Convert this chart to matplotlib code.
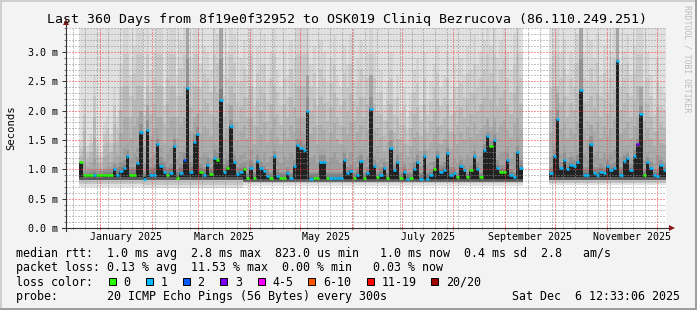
import datetime as dt
import numpy as np
import matplotlib
matplotlib.use("Agg")
import matplotlib.pyplot as plt
import matplotlib.dates as mdates
from matplotlib.ticker import MultipleLocator, FuncFormatter, NullFormatter
from matplotlib.lines import Line2D
from matplotlib.patches import Rectangle
from matplotlib.transforms import blended_transform_factory

plt.rcParams['font.family'] = 'DejaVu Sans Mono'

# 360 days ending at the graph time, RRD consolidated into 2 day columns
t_end = dt.datetime(2025, 12, 6, 12, 33, 6)
t_start = t_end - dt.timedelta(days=360)
col_days = 2

# median rtt per column (ms), None = no data
median_ms = [
    None, None, None, None, 1.13, 0.90, 0.90, 0.90, 0.91, 0.90,
    0.90, 0.90, 0.90, 0.91, 1.00, 0.91, 0.97, 1.03, 1.22, 0.91,
    0.91, 1.11, 1.64, 0.84, 1.67, 0.90, 0.90, 1.43, 1.06, 0.96,
    0.90, 0.93, 1.39, 0.86, 0.93, 1.16, 2.39, 0.96, 1.47, 1.61,
    0.96, 0.91, 1.07, 0.92, 1.20, 1.16, 2.18, 0.95, 1.03, 1.74,
    1.12, 0.92, 0.96, 1.00, 0.86, 1.03, 0.85, 1.14, 1.02, 0.97,
    0.89, 0.86, 1.22, 0.89, 0.85, 0.85, 0.93, 0.86, 1.05, 1.41,
    1.37, 1.33, 2.00, 0.84, 0.85, 0.85, 1.13, 1.12, 0.85, 0.85,
    0.85, 0.85, 0.85, 1.16, 0.93, 0.97, 0.85, 0.91, 1.14, 0.85,
    0.94, 2.03, 1.06, 0.87, 0.91, 1.02, 0.85, 1.37, 0.98, 1.13,
    0.85, 0.96, 0.84, 0.85, 1.00, 1.13, 0.84, 1.23, 0.84, 0.90,
    1.00, 1.23, 0.96, 0.99, 1.28, 0.91, 0.93, 0.87, 1.05, 0.98,
    0.87, 0.98, 1.23, 1.00, 0.87, 1.33, 1.56, 1.39, 1.50, 1.03,
    0.96, 0.96, 1.16, 0.90, 0.87, 1.30, 1.03, None, None, None,
    None, None, None, None, None, 0.93, 1.23, 1.85, 1.03, 1.16,
    1.00, 1.08, 1.06, 1.13, 2.35, 0.91, 0.91, 1.44, 0.93, 0.91,
    0.96, 0.93, 1.06, 0.98, 1.03, 2.84, 0.91, 1.14, 1.19, 0.98,
    1.22, 1.44, 1.95, 0.90, 1.12, 1.02, 0.90, 0.89, 1.07, 0.99,
]

# loss class per column (index into loss_labels), '-' = no data
loss_code = (
    "----000010" "0000111110" "0111111111" "0110121111" "0110101101"
    "1110010111" "1011001111" "1111001101" "1111110110" "1110110111"
    "0110111111" "0111111011" "0011011011" "0011111---" "-----11111"
    "1111111111" "1111111111" "1310111111"
)

# top of the medium smoke band per column (ms)
smoke_mid = [
    None, None, None, None, 1.5, 2.2, 1.4, 1.6, 2.6, 1.5,
    1.3, 1.8, 1.9, 1.6, 2.4, 1.9, 2.8, 3.5, 3.5, 2.6,
    3.1, 3.5, 3.5, 2.2, 3.5, 2.7, 3.0, 3.5, 3.5, 2.4,
    3.0, 3.5, 3.5, 2.6, 3.2, 3.5, 3.5, 2.9, 3.5, 3.5,
    2.8, 3.1, 3.0, 2.7, 3.5, 3.3, 3.5, 2.6, 3.0, 3.5,
    3.3, 2.5, 2.9, 3.2, 2.6, 3.5, 2.4, 3.1, 2.8, 3.3,
    2.5, 3.0, 3.5, 2.7, 2.4, 3.0, 2.6, 3.2, 2.9, 3.5,
    3.5, 3.5, 3.5, 2.8, 3.1, 2.4, 3.2, 3.0, 2.5, 2.9,
    3.3, 2.6, 2.4, 3.1, 2.8, 3.3, 2.5, 2.9, 3.2, 2.6,
    3.0, 3.5, 3.0, 2.3, 2.7, 2.1, 2.5, 3.0, 2.2, 2.6,
    2.0, 2.4, 1.9, 2.3, 2.7, 2.9, 2.1, 3.0, 2.2, 2.5,
    2.8, 3.1, 2.4, 2.6, 3.0, 2.2, 2.8, 2.4, 2.9, 2.6,
    3.1, 2.7, 3.3, 2.8, 3.0, 3.2, 3.5, 3.1, 3.5, 2.9,
    3.2, 3.4, 3.0, 2.7, 3.3, 3.5, 3.0, None, None, None,
    None, None, None, None, None, 2.8, 3.5, 3.5, 3.0, 3.2,
    2.6, 3.0, 2.8, 3.3, 3.5, 3.0, 2.5, 3.2, 2.9, 3.3,
    2.6, 3.1, 2.7, 3.0, 3.4, 3.5, 2.8, 3.0, 3.3, 2.6,
    3.1, 3.5, 3.5, 2.5, 3.0, 2.6, 2.2, 2.9, 2.4, 2.3,
]

# top of the dark smoke band per column (ms)
smoke_q3 = [
    None, None, None, None, 1.05, 1.00, 1.00, 1.02, 1.05, 1.00,
    1.00, 1.03, 1.05, 1.05, 1.15, 1.10, 1.20, 1.25, 1.45, 1.10,
    1.10, 1.30, 2.00, 1.00, 2.10, 1.10, 1.15, 1.70, 1.30, 1.20,
    1.10, 1.15, 1.70, 1.05, 1.15, 1.40, 3.40, 1.20, 1.80, 1.95,
    1.15, 1.10, 1.30, 1.10, 1.45, 1.40, 3.40, 1.15, 1.25, 2.10,
    1.35, 1.10, 1.15, 1.20, 1.00, 1.25, 1.00, 1.35, 1.20, 1.15,
    1.05, 1.00, 1.45, 1.05, 1.00, 1.00, 1.10, 1.00, 1.25, 1.70,
    1.65, 1.60, 2.60, 1.00, 1.00, 1.00, 1.35, 1.35, 1.00, 1.00,
    1.00, 1.00, 1.00, 1.40, 1.10, 1.15, 1.00, 1.10, 1.35, 1.00,
    1.10, 2.60, 1.25, 1.00, 1.10, 1.20, 1.00, 1.65, 1.15, 1.35,
    1.00, 1.15, 1.00, 1.00, 1.20, 1.35, 1.00, 1.45, 1.00, 1.05,
    1.20, 1.45, 1.15, 1.20, 1.50, 1.10, 1.10, 1.00, 1.25, 1.15,
    1.00, 1.15, 1.45, 1.20, 1.00, 1.60, 1.85, 1.65, 1.80, 1.25,
    1.15, 1.15, 1.40, 1.05, 1.00, 1.55, 1.25, None, None, None,
    None, None, None, None, None, 1.10, 1.45, 2.30, 1.20, 1.40,
    1.20, 1.30, 1.25, 1.35, 3.40, 1.10, 1.10, 1.75, 1.10, 1.10,
    1.15, 1.10, 1.25, 1.15, 1.20, 3.40, 1.10, 1.35, 1.40, 1.15,
    1.45, 1.70, 2.40, 1.05, 1.30, 1.20, 1.05, 1.05, 1.25, 1.15,
]

# the slowest pings stay above the visible range on every column
smoke_ceiling = 3.5

# lower smoke levels, constant over periods: [first col, end col)
seg_first = [4, 23, 53, 67, 145]
seg_end = [23, 53, 67, 137, 180]
seg_lo = [0.70, 0.68, 0.72, 0.72, 0.73]     # fastest ping
seg_lo2 = [0.75, 0.74, 0.76, 0.76, 0.77]    # medium band bottom
seg_shade = [0.82, 0.82, 0.79, 0.79, 0.82]  # dark band bottom
seg_base = [0.87, 0.87, 0.84, 0.83, 0.87]   # core bottom

loss_labels = ["0", "1", "2", "3", "4-5", "6-10", "11-19", "20/20"]
loss_colors = ["#26ff00", "#00b8ff", "#0059ff", "#7e00ff",
               "#ff00ff", "#ff5500", "#ff0000", "#a10000"]

stats_rtt = "median rtt:  1.0 ms avg  2.8 ms max  823.0 us min   1.0 ms now  0.4 ms sd  2.8   am/s"
stats_loss = "packet loss: 0.13 % avg  11.53 % max  0.00 % min   0.03 % now"
probe_text = "probe:       20 ICMP Echo Pings (56 Bytes) every 300s"
title = "Last 360 Days from 8f19e0f32952 to OSK019 Cliniq Bezrucova (86.110.249.251)"

W, H = 697, 310


def fx(px):
    return px / W


def fy(py):
    return 1 - py / H


med = np.array(median_ms, dtype=float)
mid = np.array(smoke_mid, dtype=float)
q3 = np.array(smoke_q3, dtype=float)
n = len(med)
lo = np.full(n, np.nan)
lo2 = np.full(n, np.nan)
shade = np.full(n, np.nan)
base = np.full(n, np.nan)
for a, b, v1, v2, v3, v4 in zip(seg_first, seg_end, seg_lo, seg_lo2, seg_shade, seg_base):
    lo[a:b], lo2[a:b], shade[a:b], base[a:b] = v1, v2, v3, v4

x0 = mdates.date2num(t_start)
x = x0 + np.arange(n) * col_days
have = ~np.isnan(med)
loss = np.array([int(c) if c != '-' else -1 for c in loss_code])

fig = plt.figure(figsize=(W / 100, H / 100), dpi=100, facecolor='#f3f3f3')
ax = fig.add_axes([fx(66), fy(228), 600 / W, 200.5 / H])
ax.set_facecolor('white')

xs = x[have]
bar_kw = dict(width=col_days, align='edge', linewidth=0, antialiased=False, zorder=1)


def smoke(bottom, top, light, dark, steps):
    # shrink the band step by step, each step a darker grey
    for k in range(steps):
        g = light + (dark - light) * k / (steps - 1)
        ax.bar(xs, (top - bottom) * (1 - k / steps), bottom=bottom,
               color=(g / 255, g / 255, g / 255), **bar_kw)


ax.bar(xs, smoke_ceiling - lo[have], bottom=lo[have], color='#e0e0e0', **bar_kw)
ax.bar(xs, shade[have] - lo2[have], bottom=lo2[have], color='#c6c6c6', **bar_kw)
smoke(shade[have], mid[have], 212, 158, 5)
smoke(shade[have], q3[have], 165, 90, 5)
ax.bar(xs, med[have] - base[have], bottom=base[have], color='#222222', **bar_kw)

for k, c in enumerate(loss_colors):
    sel = loss == k
    if sel.any():
        ax.hlines(med[sel], x[sel], x[sel] + col_days, colors=c, linewidth=1.8, zorder=3)

ax.set_xlim(x0, mdates.date2num(t_end))
ax.set_ylim(0, 3.417)

# grid: monthly red, weekly grey, 0.5 ms red, 0.1 ms grey
ax.xaxis.set_major_locator(mdates.MonthLocator())
ax.xaxis.set_minor_locator(mdates.WeekdayLocator(byweekday=mdates.MO))
ax.xaxis.set_major_formatter(NullFormatter())
ax.yaxis.set_major_locator(MultipleLocator(0.5))
ax.yaxis.set_minor_locator(MultipleLocator(0.1))
ax.yaxis.set_major_formatter(FuncFormatter(lambda v, p: f"{v:.1f} m"))
ax.set_axisbelow(False)
ax.grid(which='minor', color=(0.55, 0.55, 0.55, 0.25), linestyle=(0, (1, 2)), linewidth=0.72)
ax.grid(which='major', color=(1.0, 0.2, 0.2, 0.35), linestyle=(0, (1, 2)), linewidth=0.72)

for s in ax.spines.values():
    s.set_visible(False)
ax.tick_params(axis='y', which='major', length=3, width=0.7, color='#333333', pad=3,
               labelsize=7.2, direction='out')
ax.tick_params(axis='y', which='minor', length=1.5, width=0.7, color='#777777', direction='out')
ax.tick_params(axis='x', which='major', length=3, width=0.7, color='#e06060', direction='inout')
ax.tick_params(axis='x', which='minor', length=2, width=0.7, color='#777777', direction='inout')

# axes with arrows
ax.plot([0, 0], [-0.015, 1.025], transform=ax.transAxes, color='#333333', lw=0.8,
        clip_on=False, zorder=5)
ax.plot([-0.006, 1.008], [0, 0], transform=ax.transAxes, color='#333333', lw=0.8,
        clip_on=False, zorder=5)
ax.plot([0], [1.027], marker='^', ms=4.5, color='#8b1a1a', transform=ax.transAxes,
        clip_on=False, zorder=6, markeredgewidth=0)
ax.plot([1.01], [0], marker='>', ms=4.5, color='#8b1a1a', transform=ax.transAxes,
        clip_on=False, zorder=6, markeredgewidth=0)

# month labels, centred in every second month
tr = blended_transform_factory(ax.transData, ax.transAxes)
for m in [1, 3, 5, 7, 9, 11]:
    m0 = dt.datetime(2025, m, 1)
    m1 = dt.datetime(2025, m + 1, 1)
    ax.text(mdates.date2num(m0 + (m1 - m0) / 2), -0.046, m0.strftime("%B %Y"),
            transform=tr, ha='center', va='center', fontsize=7.2)

fig.text(fx(347), fy(19), title, ha='center', va='center', fontsize=9.5)
fig.text(fx(11), fy(128), "Seconds", rotation=90, ha='center', va='center', fontsize=7.6)
fig.text(fx(687), fy(59), "RRDTOOL / TOBI OETIKER", rotation=270, ha='center', va='center',
         fontsize=5.9, color='#bdbdbd')

fs = 8.4
fig.text(fx(16), fy(254), stats_rtt, ha='left', va='center', fontsize=fs)
fig.text(fx(16), fy(268), stats_loss, ha='left', va='center', fontsize=fs)
fig.text(fx(16), fy(282), "loss color:", ha='left', va='center', fontsize=fs)
fig.text(fx(16), fy(296.5), probe_text, ha='left', va='center', fontsize=fs)
fig.text(fx(680), fy(296.5), "Sat Dec  6 12:33:06 2025", ha='right', va='center', fontsize=fs)

box_x = [108.5, 145.7, 182.7, 220, 257.5, 308, 366.6, 431]
for bx, lab, c in zip(box_x, loss_labels, loss_colors):
    fig.add_artist(Rectangle((fx(bx), fy(285)), 7 / W, 7.4 / H, transform=fig.transFigure,
                             facecolor=c, edgecolor='black', linewidth=0.7))
    fig.text(fx(bx + 14.8), fy(282), lab, ha='left', va='center', fontsize=fs)

# frame
fig.add_artist(Line2D([0, 1], [fy(1), fy(1)], transform=fig.transFigure, color='#cfcfcf', lw=1.44))
fig.add_artist(Line2D([fx(1), fx(1)], [0, 1], transform=fig.transFigure, color='#cfcfcf', lw=1.44))
fig.add_artist(Line2D([0, 1], [fy(309), fy(309)], transform=fig.transFigure, color='#9e9e9e', lw=1.44))
fig.add_artist(Line2D([fx(696), fx(696)], [0, 1], transform=fig.transFigure, color='#9e9e9e', lw=1.44))

fig.savefig("out.png", dpi=100, facecolor=fig.get_facecolor())
